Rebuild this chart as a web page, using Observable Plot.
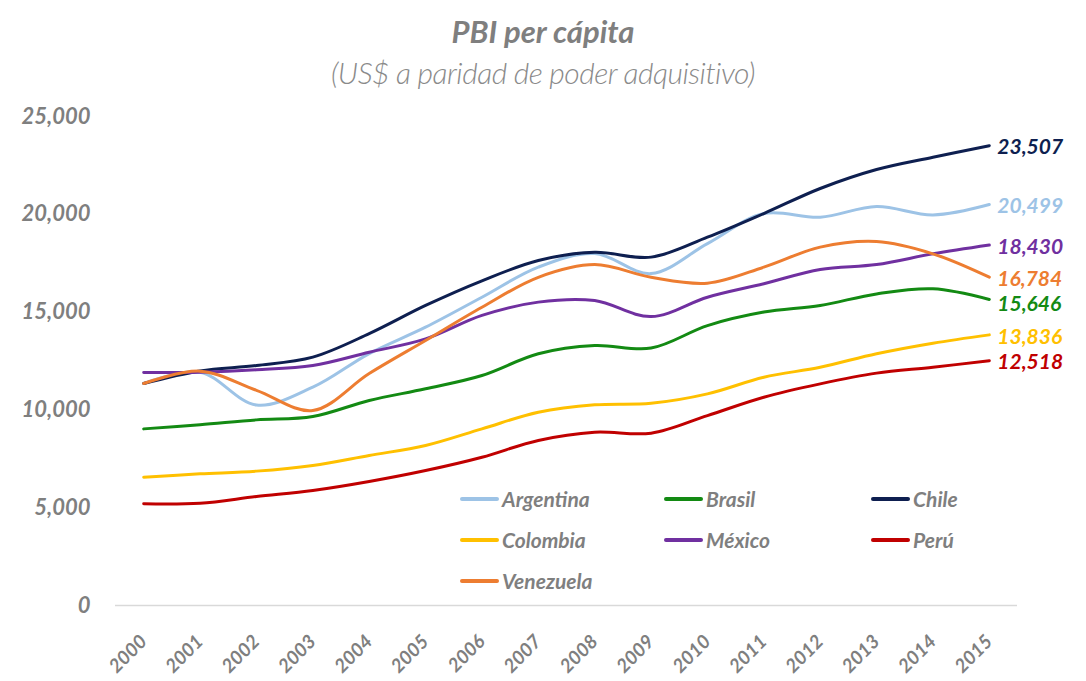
<!DOCTYPE html>
<html>
<head>
<meta charset="utf-8">
<script src="https://cdn.jsdelivr.net/npm/d3@7"></script>
<script src="https://cdn.jsdelivr.net/npm/@observablehq/plot@0.6"></script>
<style>
  html, body { margin: 0; padding: 0; background: #fff; }
  #wrap { position: relative; width: 1086px; height: 681px; overflow: hidden; font-family: Lato, "Open Sans", sans-serif; }
  #header { position: relative; height: 100px; }
  #title { position: absolute; left: 0; right: 0; top: 12px; line-height: 42px; text-align: center;
           font: italic 700 31px Lato, sans-serif; color: #7f7f7f; }
  #subtitle { position: absolute; left: 0; right: 0; top: 54px; line-height: 42px; text-align: center;
              font: italic 300 30px Lato, sans-serif; color: #8a8a8a; letter-spacing: -0.5px; }
  #legend { position: absolute; left: 460px; top: 478px; display: grid;
            grid-template-columns: 204px 207px auto; grid-auto-rows: 41px; }
  .item { display: flex; align-items: center; font: italic 700 21px Lato, sans-serif; color: #7f7f7f; }
  .sw { width: 39px; height: 4px; margin-right: 3px; border-radius: 2px; }
  .chart [aria-label="y-axis tick label"], .chart [aria-label="x-axis tick label"] {
    font-family: Lato, sans-serif; font-style: italic; font-weight: 700; fill: #7f7f7f;
  }
</style>
</head>
<body>
<div id="wrap">
  <div id="header">
    <div id="title">PBI per cápita</div>
    <div id="subtitle">(US$ a paridad de poder adquisitivo)</div>
  </div>
  <div id="chart"></div>
  <div id="legend"></div>
</div>
<script>
const years = [2000, 2001, 2002, 2003, 2004, 2005, 2006, 2007, 2008, 2009, 2010, 2011, 2012, 2013, 2014, 2015];
const yTicks = [0, 5000, 10000, 15000, 20000, 25000];

const names = ["Argentina", "Brasil", "Chile", "Colombia", "México", "Perú", "Venezuela"];
const colors = ["#9dc3e6", "#138a13", "#0e1f50", "#ffc000", "#7030a0", "#c00000", "#ed7d31"];

const argentina = [11350, 11930, 10250, 11160, 12880, 14230, 15760, 17300, 17990, 16970, 18500, 20040, 19850, 20400, 19970, 20499];
const brasil    = [9030, 9240, 9490, 9660, 10480, 11080, 11760, 12870, 13290, 13160, 14310, 15000, 15340, 15930, 16190, 15646];
const chile     = [11350, 11990, 12270, 12700, 13900, 15340, 16600, 17640, 18060, 17810, 18830, 20040, 21320, 22290, 22920, 23507];
const colombia  = [6560, 6730, 6870, 7160, 7670, 8180, 9030, 9880, 10260, 10340, 10820, 11670, 12180, 12870, 13410, 13836];
const mexico    = [11912, 11930, 12050, 12270, 12950, 13630, 14830, 15510, 15590, 14770, 15760, 16450, 17180, 17430, 17980, 18430];
const peru      = [5200, 5230, 5570, 5880, 6340, 6900, 7580, 8440, 8860, 8810, 9710, 10650, 11330, 11880, 12180, 12518];
const venezuela = [11350, 11980, 11000, 9970, 11860, 13550, 15250, 16780, 17430, 16780, 16480, 17300, 18320, 18610, 17980, 16784];

const seriesValues = [argentina, brasil, chile, colombia, mexico, peru, venezuela];

const rows = [];
names.forEach((name, i) => {
  years.forEach((year, j) => rows.push({ name, year, value: seriesValues[i][j] }));
});
const lastYear = years[years.length - 1];
const lastRows = rows.filter(d => d.year === lastYear);
const labelOpts = { x: "year", y: "value", text: d => d3.format(",")(d.value), fill: "name",
  dx: 8, textAnchor: "start", fontSize: 21, fontWeight: "bold", fontStyle: "italic" };

const chart = Plot.plot({
  className: "chart",
  width: 1086,
  height: 581,
  marginTop: 16,
  marginBottom: 76,
  marginLeft: 115,
  marginRight: 69,
  style: { fontFamily: "Lato, sans-serif", background: "#fff", overflow: "visible" },
  x: { type: "linear", domain: [years[0] - 0.5, lastYear + 0.5] },
  y: { domain: [yTicks[0], yTicks[yTicks.length - 1]] },
  color: { domain: names, range: colors },
  marks: [
    Plot.ruleY([0], { stroke: "#d9d9d9", strokeWidth: 1.5 }),
    Plot.axisY({ ticks: yTicks, tickFormat: d3.format(","), tickSize: 0, tickPadding: 25, fontSize: 22, label: null }),
    Plot.axisX({ ticks: years, tickFormat: d => String(d), tickSize: 0, tickPadding: 33, tickRotate: -45, fontSize: 19, label: null }),
    Plot.lineY(rows, { x: "year", y: "value", z: "name", stroke: "name", strokeWidth: 3, curve: "catmull-rom" }),
    Plot.text(lastRows.filter(d => d.name !== "Brasil"), { ...labelOpts, dy: 2 }),
    Plot.text(lastRows.filter(d => d.name === "Brasil"), { ...labelOpts, dy: 5 })
  ]
});
document.getElementById("chart").appendChild(chart);

const legend = document.getElementById("legend");
names.forEach((name, i) => {
  const item = document.createElement("div");
  item.className = "item";
  const sw = document.createElement("span");
  sw.className = "sw";
  sw.style.background = colors[i];
  item.appendChild(sw);
  item.appendChild(document.createTextNode(name));
  legend.appendChild(item);
});
</script>
</body>
</html>
